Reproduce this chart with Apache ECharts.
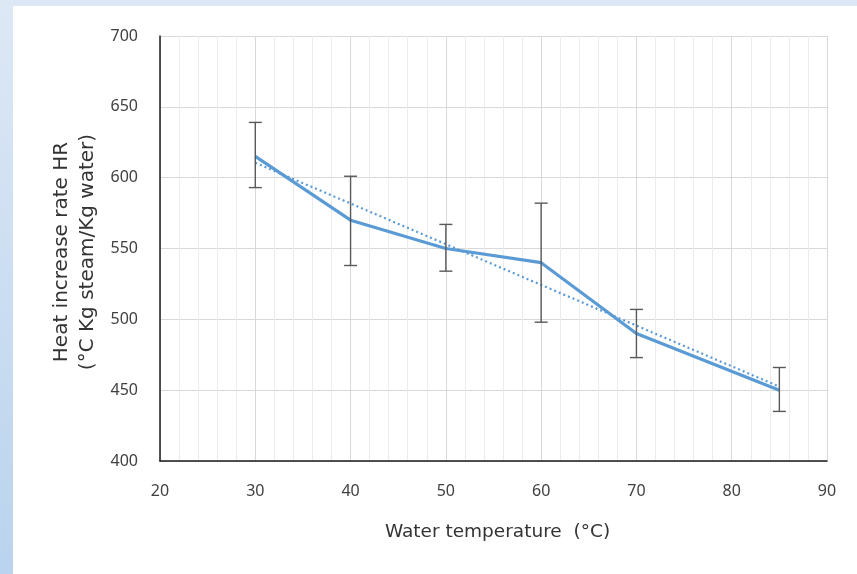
<!DOCTYPE html>
<html>
<head>
<meta charset="utf-8">
<script src="https://cdn.jsdelivr.net/npm/echarts@6/dist/echarts.min.js"></script>
<style>
  html, body { margin: 0; padding: 0; background: #ffffff; }
  #chart { width: 857px; height: 574px; }
</style>
</head>
<body>
<div id="chart"></div>
<script>
// Water temperature (°C) and measured heat increase rate
const temperatures = [30, 40, 50, 60, 70, 85];
const heatRate = [615, 570, 550, 540, 490, 450];
// Error bar bounds for each measurement
const errLow = [593, 538, 534, 498, 473, 435];
const errHigh = [639, 601, 567, 582, 507, 466];
// Linear trend line end points
const trendX = [30, 85];
const trendY = [610.5, 452.5];
// Axis ticks
const xTicks = [20, 30, 40, 50, 60, 70, 80, 90];
const yTicks = [400, 450, 500, 550, 600, 650, 700];

const lineColor = '#5b9bd5';
const textColor = '#404040';
const tickFont = 'Noto Sans';
const titleFont = 'DejaVu Sans';

const chart = echarts.init(document.getElementById('chart'), null, { renderer: 'canvas' });

const mainData = temperatures.map((t, i) => [t, heatRate[i]]);
const trendData = trendX.map((t, i) => [t, trendY[i]]);
const errData = temperatures.map((t, i) => [t, errLow[i], errHigh[i]]);

chart.setOption({
  animation: false,
  backgroundColor: '#ffffff',
  graphic: [
    {
      type: 'rect', z: -10, silent: true,
      shape: { x: 0, y: 0, width: 857, height: 6 },
      style: { fill: '#dce7f5' }
    },
    {
      type: 'rect', z: -10, silent: true,
      shape: { x: 0, y: 0, width: 13, height: 574 },
      style: {
        fill: new echarts.graphic.LinearGradient(0, 0, 0, 1, [
          { offset: 0, color: '#dde8f5' },
          { offset: 1, color: '#bad3ee' }
        ])
      }
    },
    {
      type: 'text', silent: true,
      x: 75, y: 252, rotation: Math.PI / 2,
      style: {
        text: 'Heat increase rate HR\n(°C Kg steam/Kg water)',
        font: '20px "' + titleFont + '"',
        fill: '#333333',
        align: 'center',
        verticalAlign: 'middle',
        lineHeight: 26
      }
    }
  ],
  grid: { left: 160, right: 30, top: 36, bottom: 113, containLabel: false },
  xAxis: {
    type: 'value',
    min: 20, max: 90, interval: 10,
    name: 'Water temperature  (°C)',
    nameLocation: 'middle',
    nameGap: 62,
    nameTextStyle: { color: '#333333', fontFamily: titleFont, fontSize: 18.5, padding: [0, 0, 0, 8] },
    axisLine: { show: true, onZero: false, lineStyle: { color: '#1a1a1a', width: 1.5 } },
    axisTick: { show: false },
    axisLabel: {
      color: textColor, fontFamily: tickFont, fontSize: 16, margin: 22,
      formatter: v => xTicks.includes(v) ? String(v) : ''
    },
    splitLine: { show: true, lineStyle: { color: '#d9d9d9', width: 1 } },
    minorTick: { show: false, splitNumber: 5 },
    minorSplitLine: { show: true, lineStyle: { color: '#ececec', width: 1 } }
  },
  yAxis: {
    type: 'value',
    min: 400, max: 700, interval: 50,
    axisLine: { show: true, lineStyle: { color: '#1a1a1a', width: 1.5 } },
    axisTick: { show: false },
    axisLabel: {
      color: textColor, fontFamily: tickFont, fontSize: 16, margin: 22,
      formatter: v => yTicks.includes(v) ? String(v) : ''
    },
    splitLine: { show: true, lineStyle: { color: '#d9d9d9', width: 1 } }
  },
  series: [
    {
      name: 'Trend',
      type: 'line',
      data: trendData,
      symbol: 'none',
      z: 2,
      lineStyle: { color: lineColor, width: 2.2, type: [2, 3] }
    },
    {
      name: 'HR',
      type: 'line',
      data: mainData,
      symbol: 'none',
      z: 3,
      lineStyle: { color: lineColor, width: 3.2 }
    },
    {
      name: 'Error',
      type: 'custom',
      data: errData,
      z: 4,
      renderItem: function (params, api) {
        const x = api.value(0);
        const lo = api.coord([x, api.value(1)]);
        const hi = api.coord([x, api.value(2)]);
        const half = 6.5;
        const style = { stroke: '#595959', lineWidth: 1.4, fill: null };
        return {
          type: 'group',
          children: [
            { type: 'line', shape: { x1: lo[0], y1: lo[1], x2: hi[0], y2: hi[1] }, style },
            { type: 'line', shape: { x1: hi[0] - half, y1: hi[1], x2: hi[0] + half, y2: hi[1] }, style },
            { type: 'line', shape: { x1: lo[0] - half, y1: lo[1], x2: lo[0] + half, y2: lo[1] }, style }
          ]
        };
      }
    }
  ]
});
</script>
</body>
</html>
